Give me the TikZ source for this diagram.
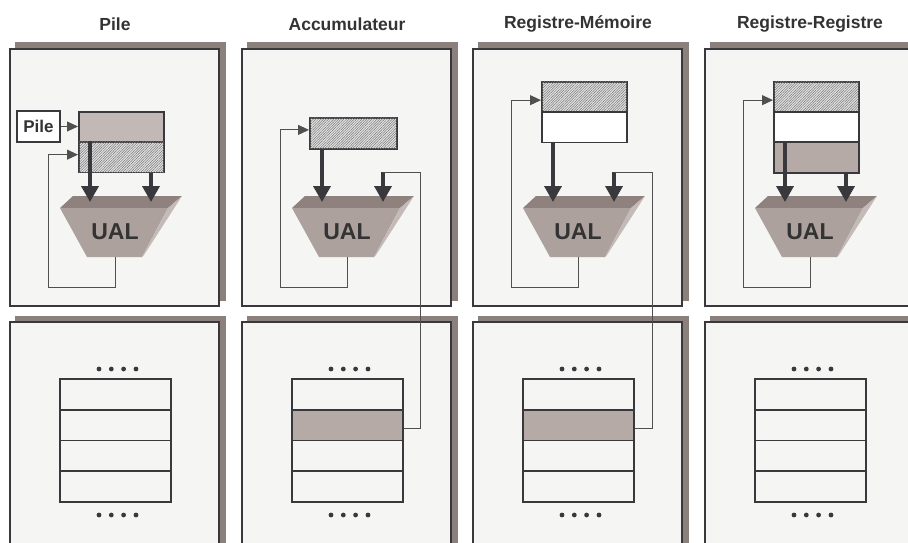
\documentclass[tikz,border=0pt]{standalone}
\usepackage{fontspec}
\setmainfont{Liberation Sans}
\usetikzlibrary{arrows.meta,patterns.meta}
\definecolor{framefill}{HTML}{F5F5F3}
\definecolor{border}{HTML}{38383D}
\definecolor{shadowc}{HTML}{8C807C}
\definecolor{ualbodyc}{HTML}{ADA19D}
\definecolor{ualtopc}{HTML}{8F827E}
\definecolor{ualsidec}{HTML}{C4BAB7}
\definecolor{cellgray}{HTML}{B5AAA6}
\definecolor{pilegray}{HTML}{C2B9B6}
\definecolor{hatchbg}{HTML}{E2E2E2}
\definecolor{hatchfg}{HTML}{7A7A7A}
\definecolor{thinc}{HTML}{505050}
\definecolor{textc}{HTML}{333333}
\begin{document}
\begin{tikzpicture}[x=1pt,y=-1pt,
  title/.style={font=\bfseries\fontsize{17.5}{20}\selectfont, text=textc, inner sep=0pt},
  shadowbox/.style={fill=shadowc},
  framebox/.style={draw=border, line width=2.8pt, fill=framefill},
  ualtop/.style={fill=ualtopc},
  ualbody/.style={fill=ualbodyc},
  ualside/.style={fill=ualsidec},
  ualtext/.style={font=\bfseries\fontsize{23}{26}\selectfont, text=textc, inner sep=0pt},
  reg/.style={draw=border, line width=1.8pt, minimum width=85pt, minimum height=30.5pt, inner sep=0pt, anchor=north west, fill=white},
  hatch/.style={fill=hatchbg, postaction={pattern={Lines[angle=45,distance=1.8pt,line width=0.5pt]}, pattern color=hatchfg}},
  cell/.style={draw=border, line width=1.8pt, minimum width=111pt, minimum height=30.75pt, inner sep=0pt, anchor=north west},
  pilebox/.style={draw=border, line width=1.8pt, fill=white, minimum width=43pt, minimum height=31pt, inner sep=0pt, font=\bfseries\fontsize{17}{20}\selectfont, text=textc},
  thickarrow/.style={draw=border, line width=3.6pt, -{Triangle[width=17pt,length=16pt]}},
  thinarrow/.style={draw=thinc, line width=0.9pt, -{Triangle[width=10pt,length=11pt]}},
  thinline/.style={draw=thinc, line width=0.9pt}
]
\useasboundingbox (0,0) rectangle (908,542);
\clip (0,0) rectangle (908,542);
\fill[white] (0,0) rectangle (908,542);

\foreach \i/\s/\t/\f in {1/0/Pile/framefill,2/232/Accumulateur/cellgray,3/463/Registre-Mémoire/cellgray,4/695/Registre-Registre/framefill}{
  \begin{scope}[xshift=\s pt]
    \node[title] (t\i) at (115,24) {\t};
    \fill[shadowbox] (15,42) rectangle (226,301);
    \draw[framebox] (10,49) rectangle (219,306);
    \fill[shadowbox] (15,316) rectangle (226,580);
    \draw[framebox] (10,322) rectangle (219,580);
    % UAL
    \fill[ualtop] (73,196) -- (182,196) -- (168,208) -- (60,208) -- cycle;
    \fill[ualbody] (60,208) -- (168,208) -- (142,257) -- (87,257) -- cycle;
    \fill[ualside] (168,208) -- (182,196) -- (144,255) -- (142,257) -- cycle;
    \node[ualtext] (u\i) at (115,232) {UAL};
    \coordinate (in\i a) at (90,202);
    \coordinate (in\i b) at (151,202);
    \coordinate (out\i) at (115,257);
    \coordinate (fb\i) at (48,287);
    % memory
    \node[cell, fill=framefill] (m\i a) at (59,378) {};
    \node[cell, fill=\f] (m\i b) at (59,408.75) {};
    \node[cell, fill=framefill] (m\i c) at (59,439.5) {};
    \node[cell, fill=framefill] (m\i d) at (59,470.25) {};
    \foreach \dx in {99,111.3,123.6,136} {
      \fill[border] (\dx,369) circle (2.4pt);
      \fill[border] (\dx,515) circle (2.4pt);
    }
  \end{scope}
}

% Panel 1 : Pile
\node[reg, fill=pilegray] (p1r1) at (78,111) {};
\node[reg, hatch] (p1r2) at (78,141) {};
\node[pilebox] (pile) at (38.5,126.5) {Pile};
\draw[thinarrow] (pile.east) -- (pile.east -| p1r1.west);
\draw[thickarrow] (p1r2.north -| in1a) -- (in1a);
\draw[thickarrow] (p1r2.south -| in1b) -- (in1b);
\draw[thinarrow] (out1) |- (fb1) |- ([yshift=2.5pt]p1r2.west);

% Panel 2 : Accumulateur
\begin{scope}[xshift=232pt]
  \node[reg, hatch, minimum width=87pt, minimum height=31pt] (p2r1) at (77,117) {};
  \coordinate (p2c) at (188,172);
  \coordinate (p2d) at (151,172);
\end{scope}
\draw[thickarrow] (p2r1.south -| in2a) -- (in2a);
\draw[thickarrow] (p2d) -- (in2b);
\draw[thinarrow] (out2) |- (fb2) |- ([yshift=3.5pt]p2r1.west);

% Panel 3 : Registre-Memoire
\begin{scope}[xshift=463pt]
  \node[reg, hatch] (p3r1) at (78,81) {};
  \node[reg] (p3r2) at (78,111) {};
  \coordinate (p3c) at (189,172);
  \coordinate (p3d) at (151,172);
\end{scope}
\draw[thickarrow] (p3r2.south -| in3a) -- (in3a);
\draw[thickarrow] (p3d) -- (in3b);
\draw[thinarrow] (out3) |- (fb3) |- ([yshift=-3pt]p3r1.west);

% Panel 4 : Registre-Registre
\begin{scope}[xshift=695pt]
  \node[reg, hatch] (p4r1) at (78,81) {};
  \node[reg] (p4r2) at (78,111) {};
  \node[reg, fill=cellgray, minimum height=31pt] (p4r3) at (78,141) {};
\end{scope}
\draw[thickarrow] (p4r3.north -| in4a) -- (in4a);
\draw[thickarrow] (p4r3.south -| in4b) -- (in4b);
\draw[thinarrow] (out4) |- (fb4) |- ([yshift=-3pt]p4r1.west);

% memory links
\draw[thinline] ([yshift=-3pt]m2b.east) -| (p2c) -- (p2d);
\draw[thinline] ([yshift=-3pt]m3b.east) -| (p3c) -- (p3d);
\end{tikzpicture}
\end{document}
